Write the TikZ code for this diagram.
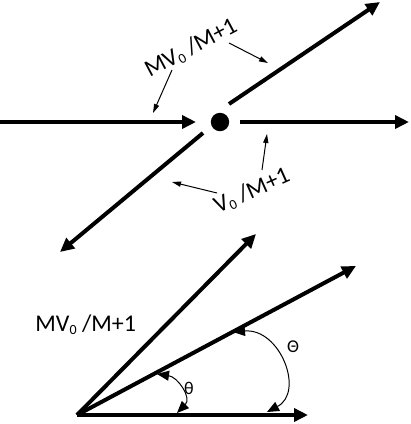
\documentclass[tikz,border=0pt]{standalone}
\usepackage{fontspec}
\setmainfont{Carlito}
\usetikzlibrary{arrows.meta}
\newcommand\lowz{\raisebox{-0.25ex}{\fontsize{7}{8}\selectfont 0}}
\tikzset{
  vec/.style={line width=2pt,-{Triangle[length=7pt,width=6.5pt]}},
  hint/.style={line width=0.5pt,-{Triangle[length=4.5pt,width=2.6pt]}},
  angarc/.style={line width=0.5pt,{Triangle[length=6pt,width=5pt]}-{Triangle[length=6pt,width=5pt]}},
  lbl/.style={font=\fontsize{12}{15}\selectfont,inner sep=0pt}
}
\begin{document}
\begin{tikzpicture}[x=0.5pt,y=-0.5pt]
      \useasboundingbox (0,0) rectangle (411,424);
      % collision
      \fill (220,122) circle (4.6pt) node (dot){};
      \draw
        (0,122) coordinate (inL)
        (196,122) coordinate (inR)
        (240,122) coordinate (outA)
        (409,122) coordinate (outB)
        (229,104) coordinate (upA)
        (380,2) coordinate (upB)
        (203,133) coordinate (dnA)
        (60,252) coordinate (dnB);
      \draw[vec] (inL) -- (inR);
      \draw[vec] (outA) -- (outB);
      \draw[vec] (upA) -- (upB);
      \draw[vec] (dnA) -- (dnB);
      \node[lbl,rotate=28] (mtop) at (191,48) {MV\lowz{} /M+1};
      \node[lbl,rotate=24] (vbot) at (252,191) {V\lowz{} /M+1};
      \begin{scope}[hint]
        \draw (172,70) coordinate (h1) -- (153,113) coordinate (h1e);
        \draw (229,43) coordinate (h2) -- (268,63) coordinate (h2e);
        \draw (217,193) coordinate (h3) -- (172,182) coordinate (h3e);
        \draw (262,170) coordinate (h4) -- (267,134) coordinate (h4e);
      \end{scope}
      % velocity triangle
      \draw
        (77,415) coordinate (o)
        (308,415) coordinate (a)
        (256,234) coordinate (b)
        (356,266) coordinate (c);
      \draw[vec] (o) -- (a);
      \draw[vec] (o) -- (b);
      \draw[vec] (o) -- (c);
      \node[lbl,anchor=west] (mleft) at (35,325) {MV\lowz{} /M+1};
      \draw[angarc] (157,374) coordinate (t1)
        .. controls (178,377) and (192,398) .. (177,413) coordinate (t2);
      \draw[angarc] (233,332) coordinate (T1)
        .. controls (280,328) and (305,392) .. (267,412) coordinate (T2);
      \node[lbl,font=\fontsize{9}{11}\selectfont] (th) at (189,388) {θ};
      \node[lbl,font=\fontsize{9}{11}\selectfont] (Th) at (293,347) {Θ};
\end{tikzpicture}
\end{document}
